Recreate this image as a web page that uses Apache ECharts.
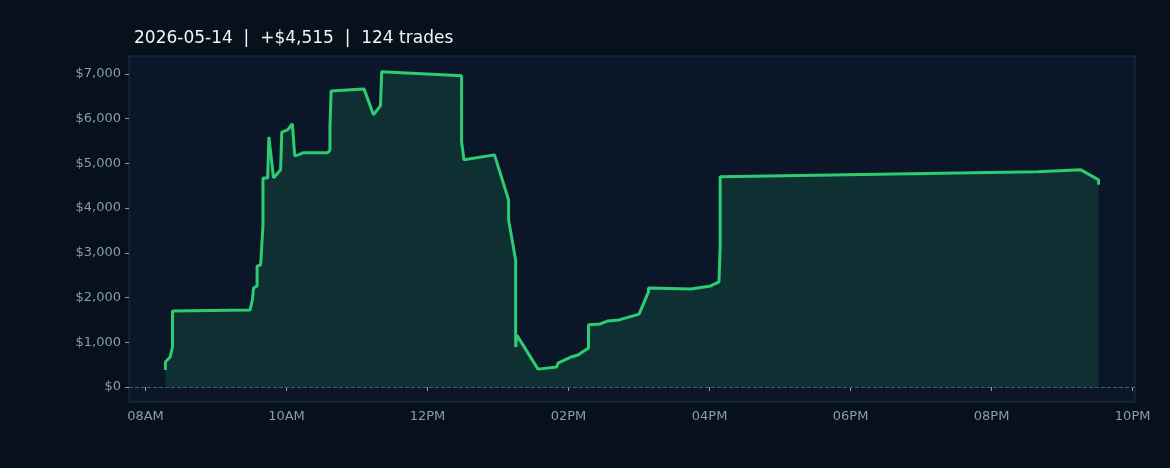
<!DOCTYPE html>
<html>
<head>
<meta charset="utf-8">
<script src="https://cdn.jsdelivr.net/npm/echarts@6/dist/echarts.min.js"></script>
<style>html,body{margin:0;background:#07111c;}</style>
</head>
<body>
<div id="main" style="width:1170px;height:468px;"></div>
<script>
var times = ['08:17','08:17','08:21','08:23','08:23','09:29','09:31','09:32','09:35','09:35','09:38','09:40','09:40','09:44','09:45','09:49','09:55','09:56','10:01','10:05','10:07','10:10','10:14','10:35','10:37','10:37','10:38','11:06','11:14','11:20','11:21','12:29','12:29','12:31','12:57','13:09','13:09','13:15','13:15','13:16','13:34','13:50','13:51','14:02','14:08','14:17','14:17','14:27','14:33','14:43','15:00','15:08','15:08','15:44','16:01','16:08','16:09','16:09','20:39','21:16','21:31','21:31'];
var pnl = [380,560,670,895,1700,1720,1950,2215,2260,2700,2730,3620,4675,4675,5590,4675,4855,5700,5750,5885,5170,5190,5235,5235,5300,5800,6620,6665,6085,6290,7050,6960,5480,5080,5190,4180,3735,2840,895,1160,400,450,535,670,715,870,1390,1410,1475,1500,1630,2125,2215,2190,2260,2350,3110,4700,4810,4855,4630,4520];
var xTicks = [8,10,12,14,16,18,20,22];
var yTicks = [0,1000,2000,3000,4000,5000,6000,7000];

// hours as decimal number
function hrs(hm){ var p = hm.split(':'); return +p[0] + (+p[1]) / 60; }
var data = times.map(function(t,i){ return [hrs(t), pnl[i]]; });

var chart = echarts.init(document.getElementById('main'));
chart.setOption({
  backgroundColor: '#07111c',
  title: {
    text: '2026-05-14  |  +$4,515  |  124 trades',
    left: 129, top: 25,
    textStyle: {color: '#f2f5f8', fontSize: 17, fontWeight: 'normal', fontFamily: 'DejaVu Sans'}
  },
  grid: {left: 129, right: 35, top: 56, bottom: 66, show: true,
         backgroundColor: '#0b1728', borderColor: '#1f2f45', borderWidth: 1},
  xAxis: {
    type: 'value', min: hrs('07:46'), max: hrs('22:02'),
    axisLine: {show: false}, splitLine: {show: false},
    axisTick: {show: true, customValues: xTicks, length: 4, lineStyle: {color: '#8a9bb0'}},
    axisLabel: {customValues: xTicks, color: '#8a9bb0', fontSize: 13, fontFamily: 'DejaVu Sans',
      formatter: function(v){ var h = Math.round(v); var hh = h % 12 || 12;
        return (hh<10?'0':'') + hh + (h<12?'AM':'PM'); }}
  },
  yAxis: {
    type: 'value', min: -335, max: 7400,
    axisLine: {show: false}, splitLine: {show: false},
    axisTick: {show: true, customValues: yTicks, length: 4, lineStyle: {color: '#8a9bb0'}},
    axisLabel: {customValues: yTicks, color: '#8a9bb0', fontSize: 13, fontFamily: 'DejaVu Sans',
      formatter: function(v){ return '$' + v.toLocaleString('en-US'); }}
  },
  series: [{
    type: 'line', data: data, showSymbol: false,
    lineStyle: {color: '#2ecc71', width: 3},
    areaStyle: {color: '#0e3033', opacity: 1},
    markLine: {silent: true, symbol: 'none', label: {show: false},
      lineStyle: {color: '#4a5a6c', type: 'dashed', width: 1},
      data: [{yAxis: 0}]}
  }]
});
</script>
</body>
</html>
